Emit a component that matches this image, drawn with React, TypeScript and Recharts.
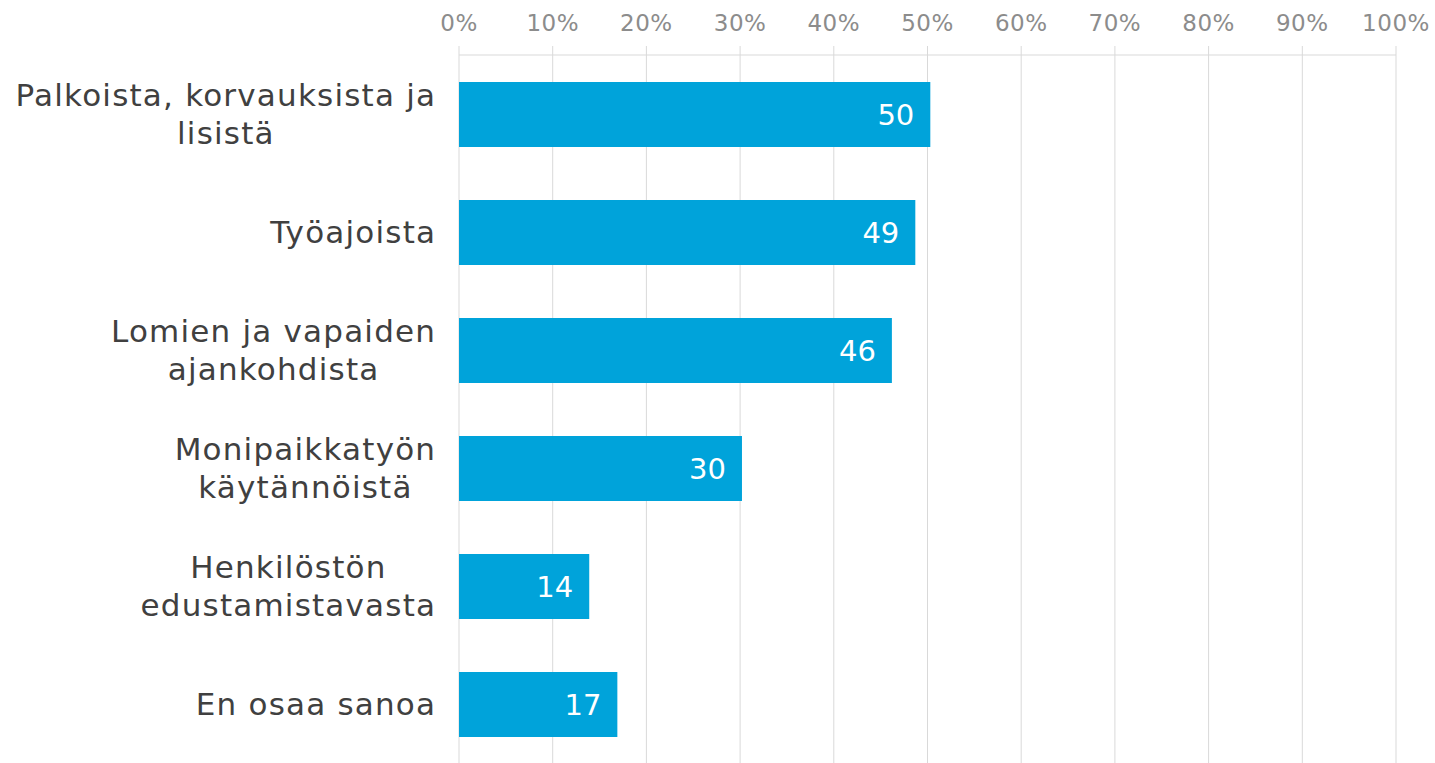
import React from 'react';
import { BarChart, Bar, XAxis, YAxis, CartesianGrid, LabelList } from 'recharts';

const categories = [
  'Palkoista, korvauksista ja\nlisistä',
  'Työajoista',
  'Lomien ja vapaiden\najankohdista',
  'Monipaikkatyön\nkäytännöistä',
  'Henkilöstön\nedustamistavasta',
  'En osaa sanoa',
];
const shares = [50.3, 48.7, 46.2, 30.2, 13.9, 16.9];
const xTicks = [0, 10, 20, 30, 40, 50, 60, 70, 80, 90, 100];

const chartData = categories.map((name, i) => ({ name, value: shares[i] }));

const FONT = '"DejaVu Sans", Verdana, sans-serif';
const LABEL_SIZE = 31;
const LABEL_SPACING = 1.2;

let ctx: CanvasRenderingContext2D | null = null;
const measure = (s: string) => {
  if (!ctx) ctx = document.createElement('canvas').getContext('2d');
  if (!ctx) return s.length * (LABEL_SIZE * 0.6 + LABEL_SPACING);
  ctx.font = `${LABEL_SIZE}px ${FONT}`;
  return ctx.measureText(s).width + s.length * LABEL_SPACING;
};

const CategoryTick = (props: any) => {
  const { x, y, payload } = props;
  const lines: string[] = String(payload.value).split('\n');
  const block = Math.max(...lines.map(measure));
  const cx = x - 16 + LABEL_SPACING - block / 2;
  const lh = 38;
  const first = y - ((lines.length - 1) * lh) / 2;
  return (
    <g>
      {lines.map((ln, i) => (
        <text
          key={i}
          x={cx}
          y={first + i * lh}
          textAnchor="middle"
          dominantBaseline="central"
          fontSize={LABEL_SIZE}
          letterSpacing={LABEL_SPACING}
          fill="#404040"
          fontFamily={FONT}
        >
          {ln}
        </text>
      ))}
    </g>
  );
};

export default function App() {
  return (
    <div style={{ position: 'absolute', left: 0, top: 0, background: '#fff' }}>
      <BarChart
        width={1435}
        height={763}
        data={chartData}
        layout="vertical"
        margin={{ top: 0, right: 39, bottom: 0, left: 0 }}
      >
        <CartesianGrid horizontal={false} stroke="#d9d9d9" />
        <XAxis
          type="number"
          orientation="top"
          domain={[0, 100]}
          ticks={xTicks}
          height={55}
          tickFormatter={(v: number) => `${v}%`}
          axisLine={{ stroke: '#d9d9d9' }}
          tickLine={{ stroke: '#d9d9d9' }}
          tickSize={9}
          tickMargin={15}
          tick={{ fill: '#8c8c8c', fontSize: 23, fontFamily: FONT, letterSpacing: 0.5 }}
          interval={0}
        />
        <YAxis
          type="category"
          dataKey="name"
          width={459}
          axisLine={false}
          tickLine={false}
          tick={<CategoryTick />}
          interval={0}
        />
        <Bar dataKey="value" fill="#00a3da" barSize={65} isAnimationActive={false}>
          <LabelList
            dataKey="value"
            position="insideRight"
            offset={16}
            fill="#ffffff"
            fontSize={29}
            fontFamily={FONT}
            formatter={(v: any) => Math.round(Number(v))}
          />
        </Bar>
      </BarChart>
    </div>
  );
}
